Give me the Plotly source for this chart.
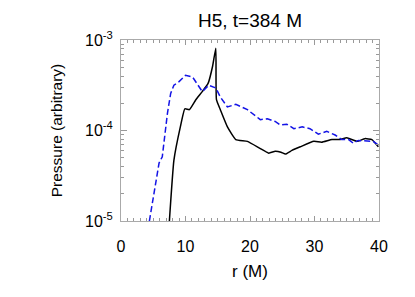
import plotly.graph_objects as go

# Black solid curve
r_black = [7.5, 8.2, 9.2, 9.9, 10.6, 11.6, 12.6, 13.5, 14.2, 14.7, 14.8, 15.4, 16.5, 17.8,
           19.6, 21.6, 22.9, 23.9, 24.8, 25.5, 26.5, 27.8, 29.9, 31.1, 32.7, 34.0, 35.0,
           36.6, 37.8, 38.9, 39.9]
logp_black = [-5.0, -4.33, -3.96, -3.76, -3.77, -3.66, -3.57, -3.48, -3.29, -3.09, -3.66, -3.77,
              -3.96, -4.10, -4.12, -4.20, -4.25, -4.23, -4.24, -4.26, -4.22, -4.18, -4.12, -4.13,
              -4.10, -4.10, -4.08, -4.12, -4.09, -4.10, -4.18]

# Blue dashed curve
r_blue = [4.4, 5.1, 5.9, 6.4, 7.2, 7.7, 8.2, 9.0, 10.0, 11.1, 11.8, 12.6, 13.6, 14.7, 15.4,
          16.5, 17.8, 19.6, 21.6, 22.7, 23.9, 24.7, 25.7, 26.8, 28.1, 29.3, 30.6, 31.9, 33.2,
          34.2, 35.3, 36.0, 36.8, 38.1, 39.1, 39.9]
logp_blue = [-5.0, -4.69, -4.36, -4.29, -3.81, -3.59, -3.50, -3.46, -3.39, -3.41, -3.48, -3.57,
             -3.50, -3.53, -3.63, -3.74, -3.71, -3.77, -3.88, -3.87, -3.90, -3.94, -3.93, -3.98,
             -3.96, -3.98, -4.04, -4.01, -4.05, -4.10, -4.10, -4.14, -4.11, -4.12, -4.12, -4.16]

x_ticks = [0, 10, 20, 30, 40]
y_tickvals = [1e-5, 1e-4, 1e-3]
y_ticktext = ["10<sup>-5</sup>", "10<sup>-4</sup>", "10<sup>-3</sup>"]

p_black = [10 ** v for v in logp_black]
p_blue = [10 ** v for v in logp_blue]

fig = go.Figure()
fig.add_trace(go.Scatter(x=r_black, y=p_black, mode="lines",
                         line=dict(color="black", width=1.5, shape="spline", smoothing=0.4),
                         showlegend=False))
fig.add_trace(go.Scatter(x=r_blue, y=p_blue, mode="lines",
                         line=dict(color="#1414e6", width=1.5, dash="6px,3px"),
                         showlegend=False))

minor_y = [k * 10 ** e for e in (-5, -4) for k in range(2, 10)]

font = "Liberation Sans, Arial, Helvetica, sans-serif"
fig.update_layout(
    width=407, height=289,
    margin=dict(l=113, r=36, t=32, b=76),
    paper_bgcolor="white", plot_bgcolor="white",
    font=dict(family=font, size=16, color="black"),
    title=dict(text="H5, t=384 M", x=0.5, xref="paper", xanchor="center",
               y=1 - 12 / 289, yref="container", yanchor="middle",
               font=dict(size=19, family=font)),
    xaxis=dict(range=[0, 40], tickvals=x_ticks, ticks="inside", ticklen=5,
               tickcolor="#999", showline=True, linecolor="#aaa", linewidth=1,
               mirror="ticks", showgrid=False, zeroline=False, automargin=False,
               ticklabelstandoff=11, tickfont=dict(size=16),
               minor=dict(dtick=1, tick0=0, ticks="inside", ticklen=3, tickcolor="#999"),
               title=dict(text="r (M)", standoff=10, font=dict(size=17))),
    yaxis=dict(type="log", range=[-5, -3], tickmode="array", tickvals=y_tickvals,
               ticktext=y_ticktext, ticks="inside", ticklen=6, tickcolor="#999",
               showline=True, linecolor="#aaa", linewidth=1, mirror="ticks",
               showgrid=False, zeroline=False, automargin=False, ticklabelstandoff=4,
               tickfont=dict(size=16),
               minor=dict(tickmode="array", tickvals=minor_y, ticks="inside",
                          ticklen=3, tickcolor="#999"),
               title=dict(text="Pressure (arbitrary)", standoff=18, font=dict(size=15.5))),
)

fig.write_html("out.html")
